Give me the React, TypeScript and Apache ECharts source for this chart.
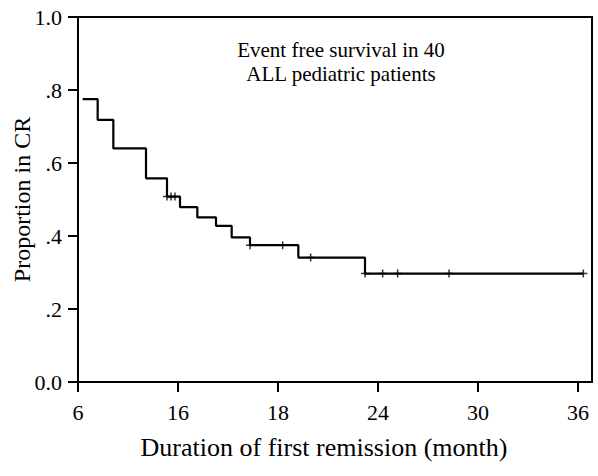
import React, { useEffect, useRef } from "react";
import * as echarts from "echarts";

// Kaplan-Meier steps: time of drop (months) and proportion after the drop
const eventTimes = [6.28, 7.18, 8.12, 10.08, 11.34, 12.12, 13.16, 14.28, 15.22, 16.32, 19.22, 23.22, 36.32];
const survivalValues = [0.775, 0.718, 0.64, 0.558, 0.508, 0.479, 0.451, 0.428, 0.396, 0.375, 0.341, 0.297, 0.297];

// Censored observations
const censorTimes = [11.34, 11.58, 11.82, 16.32, 18.28, 19.96, 23.22, 24.28, 25.18, 28.26, 36.32];
const censorValues = [0.508, 0.508, 0.508, 0.375, 0.375, 0.341, 0.297, 0.297, 0.297, 0.297, 0.297];

// Axis ticks
const xTickValues = [6, 12, 18, 24, 30, 36];
const xTickLabels = ["6", "16", "18", "24", "30", "36"];
const yTickValues = [0, 0.2, 0.4, 0.6, 0.8, 1.0];
const yTickLabels = ["0.0", ".2", ".4", ".6", ".8", "1.0"];

const FONT = "'Liberation Serif', 'Times New Roman', serif";

export default function App() {
  const ref = useRef<HTMLDivElement>(null);

  useEffect(() => {
    document.body.style.margin = "0";
    if (!ref.current) return;
    const chart = echarts.init(ref.current, undefined, { renderer: "svg" });

    const lineData = eventTimes.map((t, i) => [t, survivalValues[i]]);
    const censorData = censorTimes.map((t, i) => [t, censorValues[i]]);

    chart.setOption({
      animation: false,
      backgroundColor: "#ffffff",
      grid: {
        left: 78,
        right: 6,
        top: 17,
        bottom: 94,
        show: true,
        borderColor: "#000",
        borderWidth: 2,
        containLabel: false,
        outerBoundsMode: "none",
      },
      xAxis: {
        type: "value",
        min: 6,
        max: 36.84,
        interval: 6,
        name: "Duration of first remission (month)",
        nameLocation: "middle",
        nameGap: 52,
        nameMoveOverlap: false,
        nameTextStyle: {
          fontFamily: FONT,
          fontSize: 26,
          color: "#000",
          padding: [0, 22, 0, 0],
        },
        axisLine: { show: true, onZero: false, lineStyle: { color: "#000", width: 2 } },
        axisTick: {
          show: true,
          customValues: xTickValues,
          length: 10,
          inside: false,
          lineStyle: { color: "#000", width: 2 },
        },
        axisLabel: {
          customValues: xTickValues,
          margin: 19,
          fontFamily: FONT,
          fontSize: 22,
          color: "#000",
          formatter: (v: number) => {
            const idx = xTickValues.findIndex((t) => Math.abs(t - v) < 1e-6);
            return idx >= 0 ? xTickLabels[idx] : "";
          },
        },
        splitLine: { show: false },
      },
      yAxis: {
        type: "value",
        min: 0,
        max: 1,
        interval: 0.2,
        name: "Proportion in CR",
        nameLocation: "middle",
        nameGap: 44,
        nameMoveOverlap: false,
        nameTextStyle: { fontFamily: FONT, fontSize: 24, color: "#000" },
        axisLine: { show: true, lineStyle: { color: "#000", width: 2 } },
        axisTick: { show: true, length: 10, lineStyle: { color: "#000", width: 2 } },
        axisLabel: {
          margin: 16,
          fontFamily: FONT,
          fontSize: 22,
          color: "#000",
          formatter: (v: number) => {
            const idx = yTickValues.findIndex((t) => Math.abs(t - v) < 1e-6);
            return idx >= 0 ? yTickLabels[idx] : "";
          },
        },
        splitLine: { show: false },
      },
      graphic: [
        {
          type: "text",
          x: 341,
          y: 50,
          style: {
            text: "Event free survival in 40",
            fontFamily: FONT,
            fontSize: 21,
            fill: "#000",
            align: "center",
            verticalAlign: "middle",
          },
        },
        {
          type: "text",
          x: 341,
          y: 74,
          style: {
            text: "ALL pediatric patients",
            fontFamily: FONT,
            fontSize: 21,
            fill: "#000",
            align: "center",
            verticalAlign: "middle",
          },
        },
      ],
      series: [
        {
          type: "line",
          step: "end",
          data: lineData,
          showSymbol: false,
          symbol: "none",
          lineStyle: { color: "#000", width: 2.2 },
          silent: true,
        },
        {
          type: "scatter",
          data: censorData,
          symbol: "path://M0,5H10M5,0V10",
          symbolSize: 8,
          itemStyle: { color: "none", borderColor: "#000", borderWidth: 1.5 },
          silent: true,
        },
      ],
    });

    return () => chart.dispose();
  }, []);

  return <div ref={ref} style={{ width: 598, height: 476 }} />;
}
